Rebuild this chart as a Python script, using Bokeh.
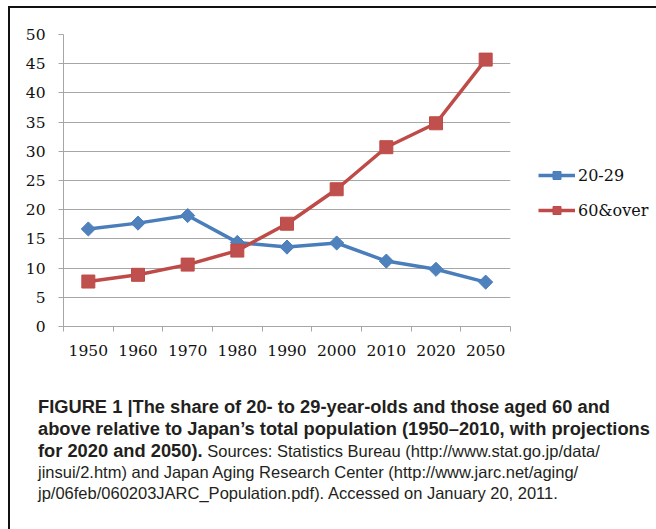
import numpy as np
from bokeh.plotting import figure
from bokeh.models import Range1d, FixedTicker, Legend, LegendItem, Div
from bokeh.layouts import column
from bokeh.embed import file_html
from bokeh.resources import INLINE

# ---- data ----
years = ["1950", "1960", "1970", "1980", "1990", "2000", "2010", "2020", "2050"]
share_20_29 = [16.7, 17.7, 19.0, 14.4, 13.6, 14.3, 11.2, 9.8, 7.6]
share_60_over = [7.7, 8.85, 10.6, 13.0, 17.6, 23.5, 30.7, 34.8, 45.7]
series_names = ["20-29", "60&over"]
y_ticks = [0, 5, 10, 15, 20, 25, 30, 35, 40, 45, 50]

caption_bold = ("FIGURE 1 |The share of 20- to 29-year-olds and those aged 60 and<br>"
                "above relative to Japan\u2019s total population (1950\u20132010, with projections<br>"
                "for 2020 and 2050).")
caption_rest = (" Sources: Statistics Bureau (http://www.stat.go.jp/data/<br>"
                "jinsui/2.htm) and Japan Aging Research Center (http://www.jarc.net/aging/<br>"
                "jp/06feb/060203JARC_Population.pdf). Accessed on January 20, 2011.")

BLUE = "#4a7ebb"
BLUE_M = "#4f81bd"
RED = "#be4b48"
RED_M = "#c0504d"
GRID = "#a6a6a6"
SERIF = "DejaVu Serif"

n = len(years)
xs = [i + 0.5 for i in range(n)]
bounds = [float(i) for i in range(n + 1)]

p = figure(output_backend="svg", toolbar_location=None,
           frame_width=447, frame_height=292,
           x_range=Range1d(0, n), y_range=Range1d(y_ticks[0], y_ticks[-1]))
p.min_border = 0
p.min_border_left = 63
p.min_border_top = 34
p.min_border_right = 146
p.min_border_bottom = 46
p.outline_line_color = None
p.background_fill_color = "white"
p.border_fill_color = "white"

# axes
p.xaxis.ticker = FixedTicker(ticks=xs, minor_ticks=bounds)
p.xaxis.major_label_overrides = {x: y for x, y in zip(xs, years)}
p.xaxis.major_tick_line_color = None
p.xaxis.major_tick_out = 0
p.xaxis.major_tick_in = 0
p.xaxis.minor_tick_line_color = GRID
p.xaxis.minor_tick_out = 5
p.xaxis.minor_tick_in = 0
p.xaxis.axis_line_color = GRID
p.xaxis.major_label_standoff = 13
p.xaxis.major_label_text_font = SERIF
p.xaxis.major_label_text_font_size = "15.5px"
p.xaxis.major_label_text_color = "#111111"

p.yaxis.ticker = FixedTicker(ticks=y_ticks, minor_ticks=[])
p.yaxis.major_tick_line_color = GRID
p.yaxis.major_tick_out = 5
p.yaxis.major_tick_in = 0
p.yaxis.minor_tick_line_color = None
p.yaxis.axis_line_color = GRID
p.yaxis.major_label_standoff = 13
p.yaxis.major_label_text_font = SERIF
p.yaxis.major_label_text_font_size = "15.5px"
p.yaxis.major_label_text_color = "#111111"

p.xgrid.grid_line_color = None
p.ygrid.ticker = FixedTicker(ticks=y_ticks)
p.ygrid.grid_line_color = GRID
p.ygrid.grid_line_width = 1.2

# series
l1 = p.line(xs, share_20_29, line_color=BLUE, line_width=3.5)
m1 = p.scatter(xs, share_20_29, marker="square", angle=np.pi / 4, size=10,
               fill_color=BLUE_M, line_color=BLUE, line_width=1)
l2 = p.line(xs, share_60_over, line_color=RED, line_width=3.5)
m2 = p.scatter(xs, share_60_over, marker="square", size=13,
               fill_color=RED_M, line_color=RED, line_width=1)

legend = Legend(items=[LegendItem(label=series_names[0], renderers=[l1, m1]),
                       LegendItem(label=series_names[1], renderers=[l2, m2])],
                location=(14, 92))
legend.glyph_width = 37
legend.glyph_height = 20
legend.label_height = 20
legend.spacing = 15
legend.padding = 14
legend.margin = 0
legend.label_standoff = 3
legend.border_line_alpha = 0
legend.background_fill_alpha = 0
legend.label_text_font = SERIF
legend.label_text_font_size = "16px"
legend.label_text_color = "#111111"
p.add_layout(legend, "right")

frame_box = ('<div style="position:fixed;left:8px;top:6px;width:900px;height:900px;'
             'border-top:2px solid #111111;border-left:2px solid #111111;'
             'pointer-events:none;"></div>')

div = Div(text=frame_box
          + '<span style="font-weight:bold;font-size:18.3px;">' + caption_bold + '</span>'
          + '<span style="font-size:16.5px;">' + caption_rest + '</span>',
          width=640,
          styles={"font-family": "'Liberation Sans', Arial, sans-serif",
                  "font-size": "16.5px", "line-height": "21px", "color": "#231f20",
                  "padding-left": "33px", "padding-top": "19px",
                  "white-space": "nowrap"})

layout = column(p, div, spacing=0)

with open("out.html", "w") as f:
    f.write(file_html(layout, INLINE))
